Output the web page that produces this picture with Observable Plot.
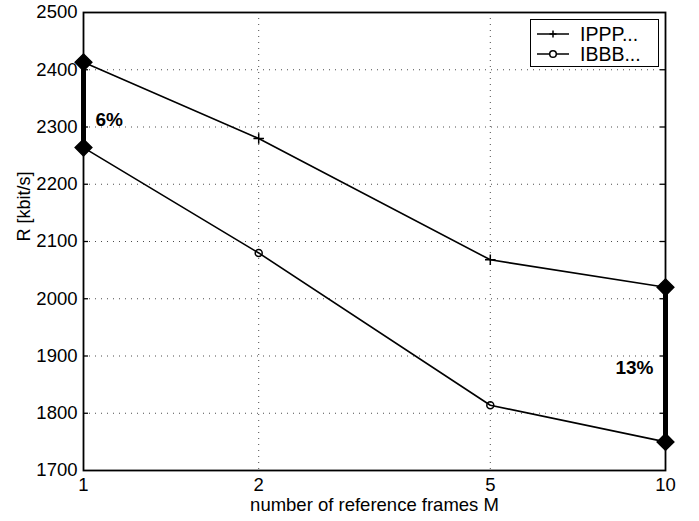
<!DOCTYPE html>
<html><head><meta charset="utf-8">
<script src="https://cdn.jsdelivr.net/npm/d3@7"></script>
<script src="https://cdn.jsdelivr.net/npm/@observablehq/plot@0.6"></script>
<style>
body{margin:0;background:#fff;}
#wrap{position:relative;width:699px;height:521px;font-family:"Liberation Sans",Arial,sans-serif;}
#legend{position:absolute;left:530px;top:19px;width:129px;height:48px;border:1.5px solid #000;background:#fff;box-sizing:border-box;}
.row{position:absolute;left:6px;height:20px;display:flex;align-items:center;font-size:19.5px;color:#000;}
.row svg{margin-right:11px;}
</style></head><body><div id="wrap"></div>
<script>
const frames = [1, 2, 5, 10];
const ippp = [2413, 2280, 2068, 2020];
const ibbb = [2264, 2080, 1814, 1750];
const seriesNames = ["IPPP...", "IBBB..."];
const xTicks = [1, 2, 5, 10];
const yTicks = [1700, 1800, 1900, 2000, 2100, 2200, 2300, 2400, 2500];
const gainFrames = [1, 10];
const gainLabels = ["6%", "13%"];
const gainLabelY = [2313, 1880];
const xLabel = "number of reference frames M";
const yLabel = "R [kbit/s]";

const rowsA = frames.map((f, i) => ({f, v: ippp[i]}));
const rowsB = frames.map((f, i) => ({f, v: ibbb[i]}));
const bars = gainFrames.map((f, i) => {
  const j = frames.indexOf(f);
  return {f, lo: ibbb[j], hi: ippp[j], label: gainLabels[i], ly: gainLabelY[i], side: i === 0 ? "start" : "end"};
});
const diamonds = bars.flatMap(b => [{f: b.f, v: b.hi}, {f: b.f, v: b.lo}]);
const font = "'Liberation Sans', Arial, sans-serif";

const chart = Plot.plot({
  width: 699, height: 521,
  marginLeft: 83, marginRight: 34, marginTop: 12, marginBottom: 51,
  style: {fontFamily: font, fontSize: "18px", color: "#000", background: "#fff"},
  x: {type: "log", domain: [1, 10], label: null},
  y: {domain: [1700, 2500], label: null},
  marks: [
    Plot.gridY(yTicks.slice(1, -1), {stroke: "#000", strokeOpacity: 0.7, strokeDasharray: "1,5"}),
    Plot.gridX(xTicks.slice(1, -1), {stroke: "#000", strokeOpacity: 0.7, strokeDasharray: "1,5"}),
    Plot.axisY(yTicks, {anchor: "left", tickSize: 0, tickPadding: 6, tickFormat: d3.format("d"), label: null, fontSize: 18.5}),
    Plot.ruleY(yTicks.slice(1, -1), {x1: 1, x2: 1.02, stroke: "#000", strokeWidth: 1.3}),
    Plot.ruleY(yTicks.slice(1, -1), {x1: 10 / 1.02, x2: 10, stroke: "#000", strokeWidth: 1.3}),
    Plot.axisX(xTicks, {anchor: "bottom", tickSize: 0, tickPadding: 7, tickFormat: d => String(d), label: null, fontSize: 18.5}),
    Plot.frame({stroke: "#000", strokeWidth: 1.8}),
    Plot.line(rowsA, {x: "f", y: "v", stroke: "#000", strokeWidth: 1.6}),
    Plot.line(rowsB, {x: "f", y: "v", stroke: "#000", strokeWidth: 1.6}),
    Plot.dot(rowsA, {x: "f", y: "v", symbol: "plus", r: 3.5, stroke: "#000", strokeWidth: 1.5}),
    Plot.dot(rowsB, {x: "f", y: "v", symbol: "circle", r: 3.5, stroke: "#000", fill: "none", strokeWidth: 1.5}),
    Plot.ruleX(bars, {x: "f", y1: "lo", y2: "hi", stroke: "#000", strokeWidth: 5}),
    Plot.dot(diamonds, {x: "f", y: "v", symbol: "diamond2", r: 7.5, fill: "#000", stroke: "#000"}),
    Plot.text(bars.filter(b => b.side === "start"), {x: "f", y: "ly", text: "label", textAnchor: "start", dx: 12, fontWeight: "bold", fontSize: 19}),
    Plot.text(bars.filter(b => b.side === "end"), {x: "f", y: "ly", text: "label", textAnchor: "end", dx: -12, fontWeight: "bold", fontSize: 19}),
    Plot.text([yLabel], {frameAnchor: "left", dx: -59, rotate: -90, fontSize: 18}),
    Plot.text([xLabel], {frameAnchor: "bottom", dy: 35, lineAnchor: "middle", fontSize: 18.5})
  ]
});
const wrap = document.getElementById("wrap");
wrap.appendChild(chart);

const legend = document.createElement("div");
legend.id = "legend";
const symbols = [
  '<svg width="32" height="10"><line x1="0" y1="5" x2="32" y2="5" stroke="#000" stroke-width="1.5"/><path d="M16,1.5V8.5M12.5,5H19.5" stroke="#000" stroke-width="1.5"/></svg>',
  '<svg width="32" height="10"><line x1="0" y1="5" x2="32" y2="5" stroke="#000" stroke-width="1.5"/><circle cx="16" cy="5" r="3.3" fill="#fff" stroke="#000" stroke-width="1.5"/></svg>'
];
seriesNames.forEach((n, i) => {
  const r = document.createElement("div");
  r.className = "row";
  r.style.top = (i === 0 ? 4 : 24) + "px";
  r.innerHTML = symbols[i] + "<span>" + n + "</span>";
  legend.appendChild(r);
});
wrap.appendChild(legend);
</script>
</body></html>
